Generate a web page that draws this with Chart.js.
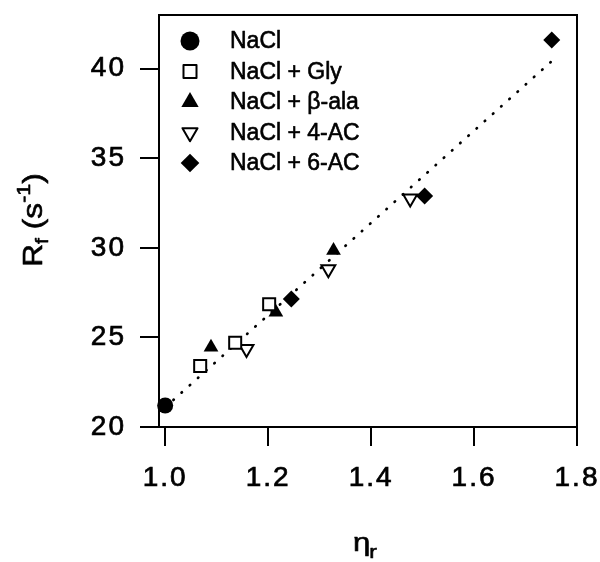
<!DOCTYPE html>
<html><head><meta charset="utf-8">
<script src="https://cdn.jsdelivr.net/npm/chart.js@4.4.0/dist/chart.umd.min.js"></script>
<style>html,body{margin:0;padding:0;background:#fff;} #wrap{width:600px;height:562px;position:relative;}</style>
</head><body><div id="wrap"><canvas id="c" width="600" height="562"></canvas></div>
<script>
// ---- data ----
const seriesNames = ['NaCl', 'NaCl + Gly', 'NaCl + \u03b2-ala', 'NaCl + 4-AC', 'NaCl + 6-AC'];
const naclX = [1.0],                 naclY = [21.2];
const glyX  = [1.068, 1.136, 1.202], glyY  = [23.4, 24.7, 26.85];
const alaX  = [1.089, 1.215, 1.327], alaY  = [24.45, 26.4, 29.85];
const ac4X  = [1.158, 1.317, 1.476], ac4Y  = [24.35, 28.8, 32.75];
const ac6X  = [1.245, 1.504, 1.751], ac6Y  = [27.15, 32.9, 41.6];
const fitX  = [1.0, 1.75],           fitY  = [21.1, 40.4];
const xTicks = [1.0, 1.2, 1.4, 1.6, 1.8];
const yTicks = [20, 25, 30, 35, 40];
const xTitleMain = '\u03b7', xTitleSub = 'r';
const yTitleParts = ['R', 'f', ' (s', '-1', ')'];

const FONT = '"Liberation Sans", Arial, Helvetica, sans-serif';
const pts = (xs, ys) => xs.map((x, i) => ({x: x, y: ys[i]}));

const markerStyles = [
  {pointStyle: 'circle',   rotation: 0,   radius: 8,   fill: '#000', borderWidth: 0, legendRadius: 9.5},
  {pointStyle: 'rect',     rotation: 0,   radius: 8.5, fill: '#fff', borderWidth: 2, legendRadius: 9.2},
  {pointStyle: 'triangle', rotation: 0,   radius: 8.5, fill: '#000', borderWidth: 0, legendRadius: 10},
  {pointStyle: 'triangle', rotation: 180, radius: 8,   fill: '#fff', borderWidth: 2, legendRadius: 8.7},
  {pointStyle: 'rectRot',  rotation: 0,   radius: 8.5, fill: '#000', borderWidth: 0, legendRadius: 9.3}
];
const seriesData = [pts(naclX, naclY), pts(glyX, glyY), pts(alaX, alaY), pts(ac4X, ac4Y), pts(ac6X, ac6Y)];
const drawOrder = [1, 2, 4, 5, 3];

const datasets = seriesData.map((d, i) => ({
  label: seriesNames[i],
  data: d,
  pointStyle: markerStyles[i].pointStyle,
  rotation: markerStyles[i].rotation,
  pointRadius: markerStyles[i].radius,
  pointHoverRadius: markerStyles[i].radius,
  backgroundColor: markerStyles[i].fill,
  borderColor: '#000',
  pointBorderWidth: markerStyles[i].borderWidth,
  borderWidth: markerStyles[i].borderWidth,
  showLine: false,
  clip: false,
  order: drawOrder[i]
}));
datasets.push({
  label: 'fit',
  data: pts(fitX, fitY),
  showLine: true,
  pointRadius: 0,
  pointHoverRadius: 0,
  borderColor: '#000',
  borderWidth: 2.7,
  borderDash: [0.5, 10.5],
  borderCapStyle: 'round',
  fill: false,
  clip: false,
  order: 10
});

function drawMarker(ctx, st, r, x, y) {
  ctx.save();
  ctx.fillStyle = st.fill;
  ctx.strokeStyle = '#000';
  ctx.lineWidth = st.borderWidth || 0;
  const opts = {pointStyle: st.pointStyle, rotation: st.rotation, radius: r, borderWidth: st.borderWidth};
  if (Chart.helpers && Chart.helpers.drawPoint) {
    Chart.helpers.drawPoint(ctx, opts, x, y);
  } else {
    ctx.beginPath(); ctx.arc(x, y, r, 0, Math.PI * 2); ctx.fill();
  }
  ctx.restore();
}

function heavyText(ctx, t, x, y, sw) {
  ctx.fillText(t, x, y);
  ctx.lineWidth = sw;
  ctx.strokeText(t, x, y);
}

const decorPlugin = {
  id: 'decor',
  beforeDraw(chart) {
    chart.ctx.letterSpacing = '2px';
  },
  beforeDatasetsDraw(chart) {
    const ctx = chart.ctx;
    ctx.letterSpacing = '0px';
    const a = chart.chartArea;
    ctx.save();
    ctx.strokeStyle = '#000';
    ctx.lineWidth = 2;
    ctx.strokeRect(a.left, a.top, a.right - a.left, a.bottom - a.top);
    ctx.restore();
  },
  afterDraw(chart) {
    const ctx = chart.ctx;
    ctx.save();
    ctx.letterSpacing = '0px';
    ctx.fillStyle = '#000';
    ctx.strokeStyle = '#000';
    ctx.lineJoin = 'round';
    // legend
    ctx.textBaseline = 'middle';
    ctx.textAlign = 'left';
    for (let i = 0; i < seriesNames.length; i++) {
      const y = 41 + i * 30.5;
      drawMarker(ctx, markerStyles[i], markerStyles[i].legendRadius, 190, y);
      ctx.fillStyle = '#000';
      ctx.strokeStyle = '#000';
      ctx.font = '23px ' + FONT;
      heavyText(ctx, seriesNames[i], 230, y + 1, 0.6);
    }
    // y title with subscript / superscript
    const sizes = [28, 19, 28, 19, 28];
    const dys = [0, 6, 0, -12, 0];
    let total = 0;
    const widths = yTitleParts.map((t, i) => { ctx.font = sizes[i] + 'px ' + FONT; const w = ctx.measureText(t).width; total += w; return w; });
    ctx.save();
    ctx.translate(42, 220);
    ctx.rotate(-Math.PI / 2);
    ctx.scale(1.13, 1);
    ctx.textBaseline = 'alphabetic';
    let x = -total / 2;
    yTitleParts.forEach((t, i) => { ctx.font = sizes[i] + 'px ' + FONT; heavyText(ctx, t, x, dys[i], 0.6); x += widths[i]; });
    ctx.restore();
    // x title
    ctx.save();
    ctx.translate(353, 551);
    ctx.scale(1.2, 1);
    ctx.textBaseline = 'alphabetic';
    ctx.font = '26px ' + FONT;
    heavyText(ctx, xTitleMain, 0, 0, 0.6);
    const ew = ctx.measureText(xTitleMain).width;
    ctx.font = '19px ' + FONT;
    heavyText(ctx, xTitleSub, ew - 1, 7, 0.6);
    ctx.restore();
    ctx.restore();
  }
};

new Chart(document.getElementById('c'), {
  type: 'scatter',
  data: {datasets: datasets},
  plugins: [decorPlugin],
  options: {
    responsive: false,
    animation: false,
    events: [],
    layout: {padding: {top: 15, right: 23, left: 0, bottom: 0}},
    plugins: {legend: {display: false}, tooltip: {enabled: false}},
    scales: {
      x: {
        type: 'linear', min: 0.988, max: 1.8,
        afterBuildTicks: s => { s.ticks = xTicks.map(v => ({value: v})); },
        afterFit: s => { s.height = 135; s.paddingLeft = 0; s.paddingRight = 0; },
        ticks: {font: {family: FONT, size: 28}, color: '#000', padding: 15, maxRotation: 0,
                textStrokeColor: '#000', textStrokeWidth: 0.7, callback: v => Number(v).toFixed(1)},
        grid: {drawOnChartArea: false, drawTicks: true, tickLength: 19, color: '#000', lineWidth: 2},
        border: {display: false},
        title: {display: false}
      },
      y: {
        type: 'linear', min: 20, max: 43,
        afterBuildTicks: s => { s.ticks = yTicks.map(v => ({value: v})); },
        afterFit: s => { s.width = 159; s.paddingTop = 0; s.paddingBottom = 0; },
        ticks: {font: {family: FONT, size: 28}, color: '#000', padding: 14,
                textStrokeColor: '#000', textStrokeWidth: 0.7, callback: v => String(v)},
        grid: {drawOnChartArea: false, drawTicks: true, tickLength: 19, color: '#000', lineWidth: 2},
        border: {display: false},
        title: {display: false}
      }
    }
  }
});
</script></body></html>
